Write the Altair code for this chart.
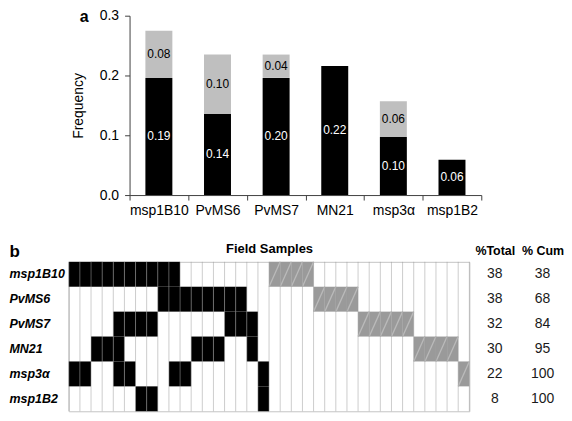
import altair as alt
import pandas as pd

# ---------------- data ----------------
markers = ["msp1B10", "PvMS6", "PvMS7", "MN21", "msp3α", "msp1B2"]
freq_black = [0.196, 0.136, 0.196, 0.216, 0.097, 0.059]
freq_grey = [0.079, 0.099, 0.039, 0.0, 0.060, 0.0]
label_black = ["0.19", "0.14", "0.20", "0.22", "0.10", "0.06"]
label_grey = ["0.08", "0.10", "0.04", "", "0.06", ""]

n_samples = 36
black_cols = [
    [1, 2, 3, 4, 5, 6, 7, 8, 9, 10],
    [9, 10, 11, 12, 13, 14, 15, 16],
    [5, 6, 7, 8, 15, 16, 17],
    [3, 4, 5, 12, 13, 14, 17],
    [1, 2, 5, 6, 10, 11, 18],
    [7, 8, 18],
]
hatch_cols = [
    [19, 20, 21, 22],
    [23, 24, 25, 26],
    [27, 28, 29, 30, 31],
    [32, 33, 34, 35],
    [36],
    [],
]
pct_total = [38, 38, 32, 30, 22, 8]
pct_cum = [38, 68, 84, 95, 100, 100]
table_headers = ["%Total", "% Cum"]

FONT = "Liberation Sans"

# ---------------- panel a ----------------
bars = pd.DataFrame({
    "marker": markers * 2,
    "seg": ["black"] * len(markers) + ["grey"] * len(markers),
    "lo": [0.0] * len(markers) + freq_black,
    "hi": freq_black + [b + g for b, g in zip(freq_black, freq_grey)],
    "label": label_black + label_grey,
})
bars["mid"] = (bars["lo"] + bars["hi"]) / 2
bars = bars[bars["hi"] > bars["lo"]]

xa = alt.X(
    "marker:N", sort=markers, title=None,
    scale=alt.Scale(range=[61, 414], paddingInner=0, paddingOuter=0),
    axis=alt.Axis(labelAngle=0, tickBand="extent", tickSize=5, labelPadding=4,
                  labelFontSize=14),
)
ya = alt.Y(
    "lo:Q",
    scale=alt.Scale(domain=[0, 0.3], nice=False, zero=True),
    axis=alt.Axis(values=[0, 0.1, 0.2, 0.3], format=".1f", title="Frequency",
                  offset=-61, tickSize=5, labelPadding=6, labelFontSize=14,
                  titleFontSize=14, titleFontWeight="normal", titlePadding=14,
                  grid=False),
)

bar_layer = alt.Chart(bars).mark_bar(width=alt.RelativeBandSize(0.46)).encode(
    x=xa,
    y=ya,
    y2="hi:Q",
    color=alt.condition(alt.datum.seg == "black", alt.value("#000000"), alt.value("#bfbfbf")),
)
text_layer = alt.Chart(bars).mark_text(fontSize=12).encode(
    x=alt.X("marker:N", sort=markers),
    y=alt.Y("mid:Q"),
    text="label:N",
    color=alt.condition(alt.datum.seg == "black", alt.value("white"), alt.value("black")),
)
chart_a = alt.layer(bar_layer, text_layer).properties(
    width=414, height=180,
    title=alt.TitleParams("a", anchor="start", frame="group", fontSize=16,
                          fontWeight="bold", dx=11, offset=-24, baseline="middle"),
)

# ---------------- panel b ----------------
cells = []
for r, m in enumerate(markers):
    for c in black_cols[r]:
        cells.append({"row": r, "marker": m, "col": c, "kind": "black"})
    for c in hatch_cols[r]:
        cells.append({"row": r, "marker": m, "col": c, "kind": "hatch"})
cells = pd.DataFrame(cells)
cells["x0"] = cells["col"] - 1
cells["y0"] = cells["row"]
cells["y1"] = cells["row"] + 1

xscale_b = alt.Scale(domain=[0, n_samples], nice=False, zero=False)
xaxis_b = alt.Axis(orient="top", labels=False, ticks=False, domain=False, grid=False,
                   title="Field Samples", titleFontSize=13, titleFontWeight="bold",
                   titlePadding=6)
yq_scale = alt.Scale(domain=[0, len(markers)], reverse=True, nice=False)

rects = alt.Chart(cells).mark_rect().encode(
    x=alt.X("x0:Q", scale=xscale_b, axis=xaxis_b),
    x2="col:Q",
    y=alt.Y("marker:N", sort=markers,
            scale=alt.Scale(paddingInner=0, paddingOuter=0),
            axis=alt.Axis(labelAlign="left", labelPadding=60, tickSize=0, ticks=False,
                          labelOverlap=False, domain=False, grid=False,
                          labelFontSize=12.5, labelFontWeight="bold",
                          labelFontStyle="italic", labelColor="black",
                          title="b", titleAngle=0, titleAlign="left",
                          titleBaseline="middle", titleFontSize=17,
                          titleFontWeight="bold", titleX=-60, titleY=-10)),
    color=alt.condition(alt.datum.kind == "black", alt.value("#000000"), alt.value("#9a9a9a")),
)
stripes = alt.Chart(cells[cells["kind"] == "hatch"]).mark_rule(
    color="#bababa", strokeWidth=1.3
).encode(
    x=alt.X("x0:Q", scale=xscale_b, axis=xaxis_b),
    x2="col:Q",
    y=alt.Y("y1:Q", scale=yq_scale, axis=None),
    y2="y0:Q",
)

bounds_df = pd.DataFrame({"b": list(range(n_samples + 1)),
                          "top": [0] * (n_samples + 1),
                          "bottom": [len(markers)] * (n_samples + 1)})
vlines = alt.Chart(bounds_df).mark_rule(color="#9a9a9a", opacity=0.5, strokeWidth=1).encode(
    x=alt.X("b:Q", scale=xscale_b, axis=xaxis_b),
    y=alt.Y("top:Q", scale=yq_scale, axis=None),
    y2="bottom:Q",
)

grid = alt.layer(rects, stripes, vlines).resolve_scale(y="independent").properties(
    width=402, height=150,
    view=alt.ViewBackground(stroke="#c4c4c4"),
)

table = pd.DataFrame({
    "marker": markers * 2,
    "header": [table_headers[0]] * len(markers) + [table_headers[1]] * len(markers),
    "value": pct_total + pct_cum,
})
table_chart = alt.Chart(table).mark_text(fontSize=14, color="#1a1a1a").encode(
    x=alt.X("header:N", sort=table_headers, title=None,
            scale=alt.Scale(type="point", padding=0.45),
            axis=alt.Axis(orient="top", labelAngle=0, ticks=False, domain=False,
                          labelFontSize=12.5, labelFontWeight="bold", labelPadding=4,
                          labelColor="black")),
    y=alt.Y("marker:N", sort=markers, scale=alt.Scale(paddingInner=0, paddingOuter=0),
            axis=None),
    text="value:Q",
).properties(width=91, height=150)

row_b = alt.hconcat(grid, table_chart, spacing=2)

chart = alt.vconcat(chart_a, row_b, spacing=24).properties(padding=0).configure(
    font=FONT
).configure_view(stroke=None).configure_axis(
    labelColor="black", titleColor="black", domainColor="#404040", tickColor="#404040",
    labelFont=FONT, titleFont=FONT,
).configure_title(font=FONT, color="black")

chart.save("out.html", embed_options={"renderer": "svg", "actions": False})
